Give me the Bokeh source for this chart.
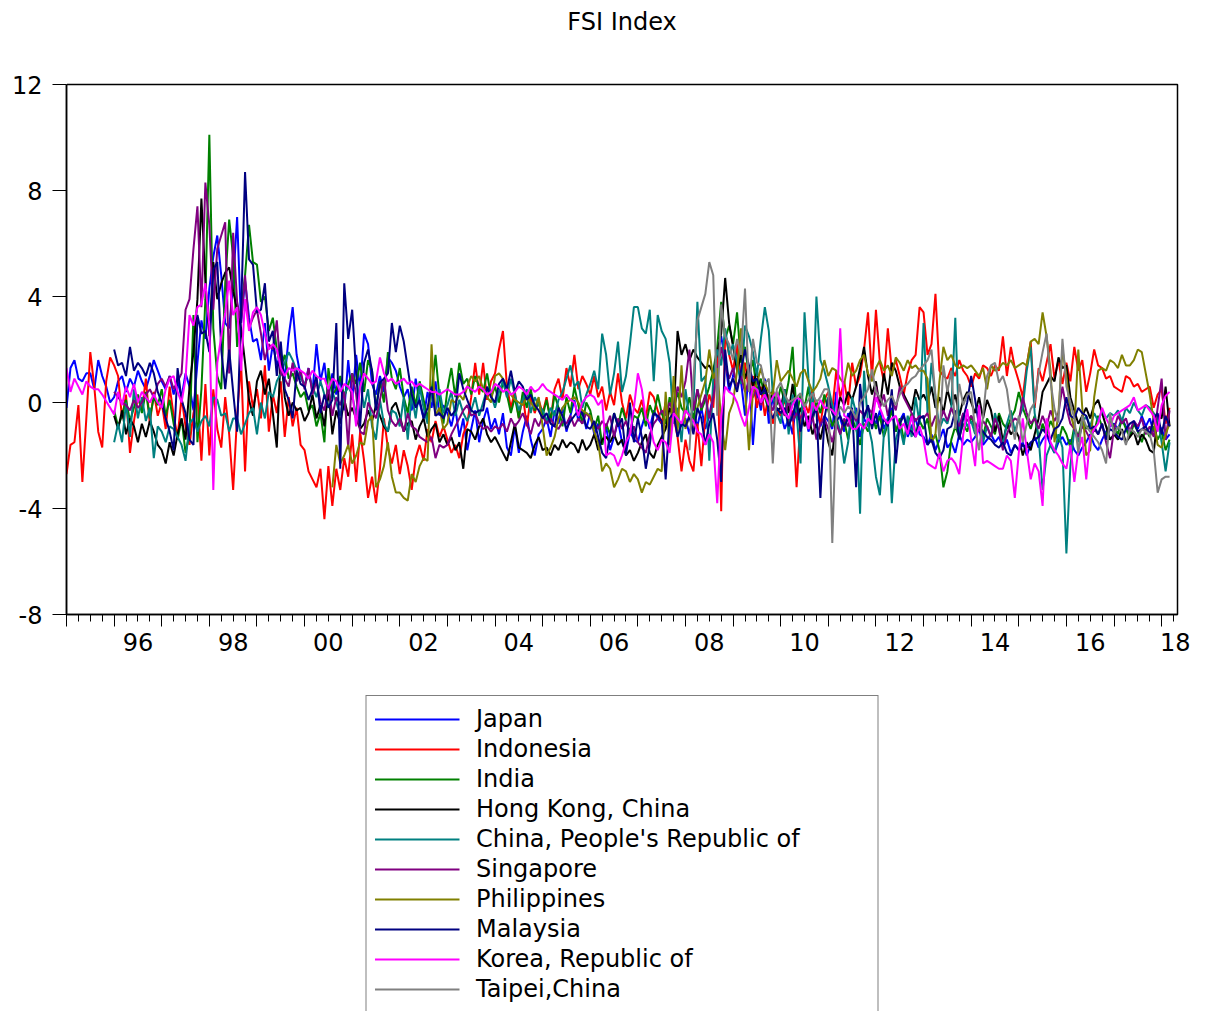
from bokeh.plotting import figure
from bokeh.layouts import column
from bokeh.models import Range1d, FixedTicker, LinearAxis, Legend, LegendItem
from bokeh.embed import file_html
from bokeh.resources import INLINE

FONT = "DejaVu Sans"
FS = "24px"

# ---- data (monthly FSI values) ----
japan_start = (1995, 1)
japan = [
    -0.2, 1.3, 1.6, 0.9, 0.8, 1.1, 1.1, 0.5, 1.6, 1.0, 0.6, 0.0,
    0.2, 0.8, 1.0, 0.4, 0.9, 0.6, 1.2, 0.8, 0.5, 1.0, 1.6, 1.2,
    0.8, 0.5, 1.0, 0.3, 0.8, 0.2, 1.1, 0.6, -0.3, 1.5, 3.1, 2.4,
    4.3, 5.5, 6.3, 4.8, 3.0, 2.8, 4.5, 7.0, 3.0, 4.6, 3.2, 2.3,
    2.4, 1.6, 3.0, 1.2, 2.2, 1.4, 1.8, 0.9, 2.5, 3.6, 1.8, 1.0,
    0.6, 1.3, 0.4, 2.2, 0.8, 1.5, 0.2, 1.1, 0.3, 0.9, -0.3, 1.6,
    0.1, 1.8, 0.5, 2.6, 2.2, 0.7, 0.3, 1.0, 0.4, 1.7, 1.5, 1.2,
    0.6, 0.2, 0.5, -0.3, 0.9, 0.0, -0.6, 0.4, -0.2, 0.8, -0.5, -0.1,
    -0.4, -0.9, -0.2, -1.3, -0.6, -1.8, -1.0, -0.3, -1.5, -0.7, -0.2, -1.0,
    -0.6, -1.2, -0.4, -1.7, -2.0, -0.9, -1.9, -1.1, -0.5, -1.4, -2.0, -1.2,
    -1.0, -0.6, -1.3, -0.3, -0.8, -0.2, -1.1, -0.5, 0.1, -0.7, -0.3, -1.0,
    -0.4, -1.2, -0.8, -1.6, -0.9, -1.8, -1.3, -0.7, -1.5, -1.9, -1.1, -1.4,
    -1.5, -0.9, -0.4, -1.0, -0.3, -0.6, -0.8, -0.2, -1.1, -0.5, -0.7, -0.9,
    -0.6, -1.2, -0.4, -0.9, -0.2, -1.0, -0.5, 0.3, 1.8, 2.5, 1.6, 0.4,
    1.0, 2.2, 0.8, -0.5, 1.2, -1.6, 0.5, -0.3, 0.9, -0.8, 0.2, -0.5,
    -0.4, -1.0, -0.6, -1.2, 0.2, -0.8, -0.3, -1.1, -0.6, -0.2, -0.9, -0.5,
    -0.7, -1.0, 0.4, -0.6, -1.1, -0.4, -0.9, -0.2, -1.3, -0.6, -0.9, -0.5,
    -0.8, -0.3, -1.0, -0.6, -0.2, -1.1, -0.7, -0.4, -1.3, -0.9, -0.6, -1.2,
    -1.3, -1.6, -1.2, -1.8, -1.4, -1.0, -1.7, -1.5, -1.9, -1.2, -1.6, -1.4,
    -1.5, -1.3, -1.0, -1.6, -1.4, -1.2, -1.5, -1.3, -1.7, -1.4, -1.9, -1.6,
    -1.8, -1.5, -2.0, -1.6, -1.3, -1.7, -1.4, -1.2, -1.6, -1.9, -1.5, -1.3,
    -1.6, -1.4, -1.8, -2.0, -1.7, -1.5, -1.2, -1.6, -1.8, -1.4, -1.1, -0.9,
    -0.8, -1.0, -0.6, -0.9, -1.2, -0.7, -1.0, -0.5, -0.9, -0.6, -1.1, -0.8,
    -1.0, -1.4, -1.2,
]

indonesia_start = (1995, 1)
indonesia = [
    -2.7, -1.6, -1.5, -0.1, -3.0, -0.6, 1.9, 0.6, -1.1, -1.7, 0.8, 1.7,
    1.4, 1.0, -0.6, 0.3, -1.9, -0.7, 0.2, -0.3, 0.9, -0.8, 0.4, -0.5,
    0.0, -1.0, 0.6, -0.5, -1.3, 0.2, -0.9, -1.6, -0.4, 0.3, -2.2, 0.7,
    -2.0, 0.5, -1.0, -1.7, 0.2, -1.2, -3.3, -0.5, 1.5, -2.6, 0.8, -0.2,
    0.5, -0.6, 1.4, -1.1, 0.3, -0.4, 0.8, -1.3, 0.2, -0.9, -0.2, -1.6,
    -1.8, -2.6, -2.9, -3.2, -2.5, -4.4, -2.4, -3.9, -2.5, -3.3, -2.1, -2.8,
    -1.2, -3.0, -1.1, -2.2, -3.6, -2.8, -3.8, -2.5, -0.6, -1.7, -2.3, -1.6,
    -2.7, -1.8, -2.4, -3.3, -2.1, -1.6, -2.2, -1.0, -1.5, -0.7, -1.3, -0.9,
    -1.4, -1.9, -1.6, -2.1, -1.2, -0.8, 0.2, 1.5, 0.3, 1.5, 0.1, 0.8,
    1.1, 2.0, 2.7, 0.6, -0.2, 0.4, -0.6, 0.3, -0.9, 0.2, -0.4, 0.1,
    -0.4, 0.2, -0.7, 0.5, 0.9, 0.1, 1.3, 0.6, 1.8, 0.5, 1.0, 0.7,
    0.3, 1.0, 0.2, 0.6, -0.3, 0.4, -0.1, 1.1, 0.0, -0.6, 0.3, -0.2,
    -0.4, 0.1, -0.6, 0.4, 0.2, -0.3, -0.8, 0.0, -1.0, -0.5, -1.3, -2.6,
    -1.4, -2.2, -2.6, -0.8, -2.4, -0.5, 0.3, -0.2, 1.9, -4.1, 2.6, 1.8,
    1.2, 2.2, 0.9, 1.5, 0.4, 1.0, -0.2, 0.6, -0.5, 0.3, -0.8, -0.3,
    -0.5, 0.2, -0.9, -0.3, -3.2, -0.6, 0.0, -0.4, 0.5, -0.2, -0.8, 0.1,
    0.4, -0.3, 1.2, 0.2, 0.8, -0.1, 1.5, 0.6, 1.0, 2.0, 3.4, 0.9,
    3.5, 1.5, 0.8, 2.8, 1.2, 1.6, 1.0, 0.3, 1.1, 1.6, 1.8, 3.6,
    3.4, 1.8, 2.2, 4.1, 1.2, 1.0, 0.9, 1.3, 1.0, 1.6, 1.2, 1.0,
    0.6, 1.1, 0.9, 1.4, 1.3, 1.0, 1.4, 1.2, 2.5, 1.0, 2.1, 1.3,
    0.8, 0.2, 1.4, 2.3, -0.2, 1.3, 0.8, 1.5, 2.2, 0.9, 1.6, 0.7,
    1.5, 0.8, 2.1, 1.2, 1.6, 0.4, 1.1, 2.0, 1.4, 1.3, 0.9, 1.0,
    0.6, 0.5, 0.4, 1.0, 0.9, 0.6, 0.7, 0.4, 0.5, 0.6, -0.2, 0.3,
    0.5, -0.8, -0.2,
]

india_start = (1996, 1)
india = [
    -0.3, -0.9, -0.5, 0.1, -0.7, -0.2, 0.3, -0.4, 0.4, -0.6, 0.2, -0.1,
    0.5, -0.5, 0.1, -0.8, -1.4, -0.6, -1.9, -1.2, 3.3, -1.5, 0.5, 3.9,
    10.1, 2.8, 1.0, 0.5, 4.5, 6.9, 5.5, 2.1, 3.5, 4.8, 6.7, 5.3,
    5.2, 3.8, 4.0, 2.7, 3.2, 2.0, 1.3, 1.8, 0.9, 1.1, 0.6, 0.2,
    0.4, -0.3, -0.1, -0.9, -0.4, -1.5, 1.3, 0.3, 0.5, 1.0, 0.2, 0.7,
    1.1, 0.7, 1.5, 0.4, 1.6, 1.2, -0.2, 0.8, 0.0, 1.9, 0.9, 0.5,
    1.3, 0.2, -0.4, 0.6, -0.1, 0.8, 0.1, -0.6, 0.4, 1.8, 0.2, -0.8,
    0.5, 1.3, 0.2, 1.5, 0.7, 0.9, 0.3, 1.0, 0.6, 0.4, 1.1, 0.2,
    0.6, 0.0, 0.8, 0.3, -0.4, 0.2, -0.6, 0.4, -0.2, 0.5, -0.3, 0.0,
    -0.5, 0.1, -0.7, 0.3, -0.2, -0.9, 0.2, -0.4, 0.6, -0.1, -0.8, 0.0,
    -0.3, -1.0, -0.5, -1.6, -0.8, -1.2, -0.4, -0.9, -0.2, -0.7, -1.1, -0.5,
    -0.6, -0.2, -0.9, -0.1, -0.5, 0.3, -0.4, -0.8, 0.2, -0.3, 0.4, -0.2,
    -0.4, 0.2, -0.7, 0.5, -0.3, 0.1, 0.6, 1.2, 2.1, 3.8, 2.4, 2.9,
    2.2, 3.4, 1.5, 2.1, 1.0, 1.6, 0.4, 0.9, 0.2, -0.3, 0.5, -0.1,
    0.6, 0.0, 0.8, 2.1, -0.5, 0.3, -0.2, 0.6, -0.7, 0.1, -0.4, 0.3,
    -0.3, -0.9, -0.5, -1.2, -0.7, -1.4, -0.6, -1.0, -1.6, -0.8, -1.1, -0.4,
    -1.0, -0.5, -1.3, -0.8, -0.3, -1.1, -0.6, -1.4, -0.9, -0.4, -1.2, -0.7,
    -1.0, -0.6, -1.5, -1.2, -1.8, -3.2, -2.6, -1.4, -0.9, -1.3, -0.8, -1.1,
    -0.5, -1.0, -0.7, -1.3, -0.6, -0.9, -1.2, -0.4, -0.8, -1.0, -0.6, -0.3,
    0.4, -0.2, -0.6, -1.0, -0.5, -1.4, -0.8, -1.2, -0.7, -1.0, -1.5, -0.9,
    -1.2, -1.7, -0.9, -1.3, -0.6, -1.0, -0.8, -1.1, -0.5, -0.9, -1.3, -0.7,
    -0.9, -1.2, -0.6, -1.0, -1.3, -0.8, -1.1, -1.5, -1.0, -1.3, -0.9, -1.4,
    -1.1, -1.8, -1.4,
]

hongkong_start = (1996, 1)
hongkong = [
    -0.5, -1.0, -0.3, -1.2, -0.6, -0.9, -1.5, -0.8, -1.3, -0.7, -1.1, -1.6,
    -1.8, -2.3, -1.5, -2.0, -1.2, -0.6, -1.4, 0.6, 1.9, 3.9, 7.7, 4.6,
    2.5, 5.3, 3.9, 4.5, 4.9, 5.1, 4.2, 3.5, 2.8, 1.5, 0.1, -0.5,
    0.8, 1.2, 0.3, 0.9, -0.4, -1.7, 1.9, 0.2, -0.5, 0.0, -0.3, -0.2,
    -0.7, -0.4, 0.3, -0.6, -0.1, -0.9, 0.5, -1.2, -0.3, -0.8, 0.1, -0.5,
    -0.2, -0.6, -1.0, -0.8, -0.3, -0.7, -0.1, -0.5, -0.9, -1.1, -0.2, 0.0,
    -0.5, -1.1, -0.8, -0.7, -1.4, -0.9, -0.6, -1.3, -1.0, -0.8, -1.5, -1.2,
    -1.6, -1.3, -1.8, -1.5, -2.5, -1.0, -1.1, -1.4, -0.9, -0.6, -1.2, -1.5,
    -1.3, -1.6, -1.9, -2.2, -1.5, -0.8, -1.7, -1.8, -1.9, -2.1, -1.6, -1.3,
    -1.8, -1.7, -2.0, -1.6, -1.8, -1.4, -1.7, -1.5, -1.6, -1.9, -1.4, -1.8,
    -1.6, -1.2, -1.8, -1.4, -1.3, -1.5, -1.2, -1.6, -1.4, -2.0, -1.8, -2.2,
    -1.9, -1.5, -1.2, -1.9, -2.1, -1.6, -1.3, -1.0, -0.2, -0.6, 2.7, 1.8,
    2.2, 1.6, 2.0, 1.7, 1.5, 1.3, 1.4, 1.1, 1.9, 2.6, 4.7, 3.0,
    2.1, 1.2, 1.8, 0.9, 1.4, 0.6, 1.2, 0.3, 0.8, -0.1, 0.4, -0.3,
    -0.2, 0.5, -0.4, 0.7, -0.6, -0.2, -0.9, -0.5, -1.2, -0.8, -1.4, -0.7,
    -1.5, -2.0, -0.5, 0.2, -0.1, 0.4, 0.1, 0.6, 1.3, 2.1, 1.0, 0.3,
    0.8, -0.2, 1.1, 0.3, 1.5, 1.2, 0.6, 0.3, 0.0, -0.3, 0.5, 0.1,
    0.3, 0.0, 0.6, -0.2, 0.2, -0.4, 0.5, -0.1, 0.3, -0.5, 0.1, 0.4,
    0.0, -0.4, 0.2, -0.6, 0.1, -0.3, -1.1, -0.5, -1.5, -0.8, -1.2, -1.0,
    -1.3, -2.0, -1.5, -1.8, -1.2, -0.6, 0.4, 0.7, 1.0, 0.8, 1.7, 1.3,
    1.4, 0.2, -0.3, -0.8, -0.5, -0.2, -0.6, -0.1, 0.1, -0.4, -0.9, -1.4,
    -1.2, -1.4, -1.0, -1.5, -1.3, -1.1, -1.6, -1.2, -1.4, -1.8, -1.9, -0.5,
    -0.6, 0.6, -0.9,
]

china_start = (1996, 1)
china = [
    -1.5, -0.8, -1.5, 0.0, -1.3, 0.5, -0.6, 0.2, -0.7, -0.2, -2.1, -0.9,
    -1.1, -1.5, -0.9, -1.0, -1.3, -1.6, -2.2, -0.8, -0.6, -1.1, -0.7, -0.5,
    -0.9, 0.2, 0.1, -0.5, -0.4, -1.1, -0.6, -0.6, -1.2, -0.8, -0.4, -0.2,
    -1.2, 0.0, -0.6, 0.4, 0.2, 0.8, 1.1, 1.5, 1.9, 1.6, 1.2, 0.9,
    0.7, 1.0, 0.6, 0.2, 0.8, 0.3, -0.2, 0.4, 0.0, -0.5, 0.3, 0.6,
    0.3, -0.5, 0.8, -0.2, 0.5, -0.9, -1.4, 0.1, -0.8, -1.1, -0.3, -0.4,
    -0.9, 0.2, -1.4, 0.3, -0.6, 0.6, -0.2, -0.8, 0.4, -0.3, 0.5, -0.4,
    -0.1, 0.4, -0.5, 0.1, -0.4, -0.7, -0.3, 0.2, -0.5, 0.0, 0.5, 0.3,
    -0.2, 0.4, 0.8, 0.2, 0.9, 0.3, -0.3, 0.1, 0.5, -0.4, 0.2, -0.1,
    -0.3, -0.7, -0.2, -0.5, 0.1, 0.4, 0.9, 1.4, 0.6, 0.8, -0.2, 0.3,
    0.7, 1.2, 0.5, 2.6, 1.8, 0.3, 1.1, 2.3, 0.4, 1.0, 2.2, 3.6,
    3.6, 2.8, 2.6, 3.5, 0.8, 3.3, 2.7, 2.4, 1.5, -0.8, -0.2, -1.5,
    0.5, -0.6, -0.2, 3.8, 0.8, 1.0, -2.2, 0.9, 2.0, 1.4, 2.8, 1.8,
    2.2, 1.5, 0.7, 2.9, 2.5, 1.9, 1.0, 2.4, 3.6, 2.7, 0.3, -0.4,
    -0.8, 0.5, -1.2, 0.3, -0.4, -2.3, 3.4, 0.9, -0.6, 4.0, 1.6, 1.2,
    0.6, -0.1, -0.6, -1.1, -2.3, -1.5, 0.2, -0.4, -4.2, 1.2, -0.8, -1.5,
    -2.8, -3.5, -1.2, -0.6, -3.8, -1.4, -0.9, -1.6, -0.5, -1.3, 0.2, -0.8,
    3.0, -0.4, 1.5, 0.2, -1.0, -0.6, -0.8, -0.2, 3.2, -1.2, -0.4, -0.9,
    -0.7, -1.2, -0.5, -1.5, -0.9, -1.3, -0.4, -1.0, -1.6, -0.8, -0.3, -1.1,
    -0.6, -0.2, 1.2, 2.1, -0.4, -1.3, -3.3, -2.0, -1.6, -1.9, -1.2, -1.7,
    -5.7, -2.4, -1.0, -1.5, -0.8, -0.5, -0.9, -0.4, -0.7, -0.3, -0.6, -0.4,
    -0.5, -0.3, -0.7, -0.2, -0.4, 0.0, -0.3, -0.5, -0.1, -0.2, -0.4, -0.6,
    -1.5, -2.6, -1.5,
]

singapore_start = (1996, 1)
singapore = [
    0.4, 0.2, 0.0, -0.1, -0.3, 0.1, -0.2, 0.0, 0.3, 0.5, 0.2, 0.7,
    0.9, 0.6, 1.0, 0.5, 0.8, 1.1, 3.5, 3.9, 5.8, 7.4, 3.6, 8.3,
    6.7, 3.5, 5.8, 6.3, 6.8, 1.1, 6.4, 3.8, 3.0, 4.8, 2.8, 3.2,
    3.5, 2.6, 1.6, 2.2, 2.0, 3.1, 1.1, 0.9, 0.6, 1.5, 0.8, 1.2,
    0.5, 1.3, 0.3, 0.8, 0.0, -0.3, 0.6, -0.5, 0.2, -0.1, 0.4, -1.7,
    1.1, 0.3, -1.1, -1.2, 0.0, -0.3, -0.6, 0.1, 0.9, -0.3, -0.7, -0.9,
    -0.6, -1.1, -0.4, -0.9, -1.0, -1.3, -1.4, -1.5, -1.3, -2.1, -1.6, -1.7,
    -1.6, -1.2, -0.9, -0.6, -0.3, -0.1, -0.5, -0.4, -0.8, -1.0, -0.9, -1.1,
    -0.9, -1.0, -0.8, -1.1, -0.6, -0.9, -0.7, -0.4, -0.8, -1.2, -0.6, -0.9,
    -0.5, -0.8, -0.6, -0.9, -1.0, -0.7, -0.8, -0.5, -0.9, -0.6, -0.8, -0.4,
    -0.6, -0.8, -1.0, -0.7, -0.9, -0.5, -1.3, -0.6, -1.0, -0.7, -1.2, -0.9,
    -1.5, -1.7, -1.9, -1.2, -0.8, -0.6, -0.3, -0.5, 0.0, -0.4, 0.6, 0.2,
    0.8, 2.0, -0.3, 0.5, -0.2, 0.3, -0.6, 0.2, 1.1, 2.1, 1.4, 0.9,
    1.3, 0.6, 1.0, 0.4, 0.8, 0.2, 0.5, -0.1, 0.3, 0.0, -0.3, 0.2,
    -0.2, -0.5, 0.1, -0.7, -0.4, -0.6, -0.3, -1.0, -0.5, -1.4, -0.8, -0.6,
    -1.0, -1.5, -0.8, -1.2, -0.6, -0.9, -0.4, -0.7, -0.3, -0.5, -0.2, -0.4,
    0.6, -0.2, 0.3, -0.5, 0.1, -0.3, 0.6, 0.2, -0.1, -0.4, -0.7, -0.5,
    -0.6, -0.4, -0.9, -0.5, -0.8, -0.3, -0.7, -0.2, -0.6, -0.9, -0.4, -0.7,
    -0.5, -0.8, -1.1, -0.7, -0.9, -1.3, -0.6, -1.0, -1.8, -1.2, -0.8, -0.6,
    -0.7, 0.2, -0.4, -0.8, -0.6, -1.0, -0.5, -0.9, -0.3, -0.7, -0.4, 0.6,
    -0.2, -0.8, -1.0, -1.3, -0.9, -1.1, -1.4, -1.0, -1.2, -0.8, -1.5, -2.1,
    -1.0, -0.5, -0.8, -0.6, -1.1, -0.7, -0.9, -0.6, -1.2, -0.9, -1.3, -0.2,
    0.9, -1.4, -0.3,
]

philippines_start = (2000, 8)
philippines = [
    -3.2, -1.6, -2.3, -2.0, -1.6,
    -2.3, -2.0, -1.5, -1.6, -0.7, -0.5, -3.2, -2.9, -2.4, -1.5, -2.8, -3.4,
    -3.4, -3.6, -3.7, -2.7, -3.0, -2.4, -2.1, -2.2, 2.2, -0.5, -0.2, -1.0,
    -0.8, 0.1, 0.0, 0.3, 0.1, 0.6, 1.0, 0.8, 1.0, 0.5, 0.2, 0.0,
    1.0, 1.1, 0.9, 0.6, 0.3, 0.1, 0.0, -0.1, 0.2, 0.0, -0.2, 0.2,
    -0.9, -2.0, -1.7, -1.3, -0.6, -0.2, 0.0, 0.1, 0.2, 0.0, -0.3, -0.4,
    -0.5, -1.1, -1.5, -2.6, -2.3, -2.5, -3.2, -2.9, -2.5, -2.6, -3.0, -2.7,
    -2.9, -3.4, -3.0, -3.1, -2.8, -2.5, -2.6, 0.4, -1.6, 1.0, -1.1, 1.4,
    -1.0, -0.5, -1.1, -0.2, 0.3, 0.8, 2.0, 0.9, 1.3, -0.7, -1.8, -0.4,
    0.0, 1.2, 2.8, 0.5, -1.8, 0.4, 0.7, 1.3, 0.7, 0.4, 0.3, 1.6,
    0.8, 1.0, 1.2, 0.9, 0.6, 1.1, 1.25, 0.8, 0.4, 0.6, 0.9, 1.6,
    1.0, 1.3, 1.2, 0.9, 0.7, 1.5, 1.0, 1.2, 1.6, 1.8, 1.1, 0.8,
    1.3, 1.6, 1.2, 1.4, 1.0, 1.7, 1.5, 1.2, 1.6, 1.3, 1.4, 1.2,
    1.2, 0.9, -1.5, -1.2, 0.8, 2.1, 1.6, 1.8, 1.4, 1.3, 1.4, 1.3,
    1.4, 1.2, 1.0, 1.3, 0.5, 1.4, 1.2, 1.3, 1.5, 1.4, 1.6, 1.3,
    1.4, 1.5, 1.4, 2.3, 2.4, 2.2, 3.4, 2.5, 1.2, -1.5, -0.4, 2.0,
    1.0, -0.4, -1.0, 2.0, -0.2, -2.0, -1.8, 0.2, 1.2, 1.3, 1.2, 1.6,
    1.5, 1.3, 1.8, 1.4, 1.4, 1.6, 2.0, 1.9, 1.1, 0.3, -0.7, -1.6,
    -1.7, -1.2, -0.8,
]

malaysia_start = (1996, 1)
malaysia = [
    2.0, 1.4, 1.5, 1.0, 2.1, 1.2, 1.5, 1.3, 1.0, 1.5, 1.1, 0.4,
    0.0, -0.6, -1.1, -1.8, 1.3, 0.1, -0.4, -1.4, -1.6, 3.3, 2.6, 2.7,
    1.9, 5.0, 5.3, 2.0, 0.5, 2.0, 0.4, -1.1, 3.4, 8.7, 5.4, 5.2,
    3.4, 3.5, 4.5, 2.3, 2.7, 1.0, 2.3, 0.5, 0.1, -0.6, 1.2, 0.7,
    0.6, 0.1, 0.5, 1.0, -0.4, 0.3, -0.2, 0.1, 3.0, -2.5, 4.5, 2.4,
    3.5, 1.1, -0.9, 1.5, 2.0, 1.2, -0.3, 0.75, 0.9, 1.1, 3.0, 1.9,
    2.9, 2.3, 1.3, 0.3, -0.2, 0.1, -0.6, -0.2, 0.6, -0.5, -0.4, -0.6,
    -0.2, -0.5, -0.3, 1.1, 0.5, 0.1, -0.3, -0.4, -0.3, -0.3, 0.6, 0.2,
    0.0, 0.7, 0.9, 0.5, 1.2, 0.4, 0.8, 0.6, 0.1, 0.3, -0.1, -0.3,
    -0.6, -0.4, -0.8, -0.9, -0.2, -0.5, -1.0, -0.7, -0.5, -0.3, -0.4, -0.9,
    -1.0, -0.7, -1.3, -1.9, -2.1, -1.2, -0.4, -0.9, -0.6, -2.0, 0.0, -1.5,
    -0.6, -1.3, -2.5, -1.6, -0.4, -0.5, -0.7, -2.9, -0.6, -0.4, -1.3, -0.8,
    -0.9, -0.5, -1.2, -0.2, -0.6, -1.6, -0.8, -0.4, -1.4, -3.0, 2.0, 0.6,
    0.9, 0.4, 1.2, 2.0, 1.4, 0.8, 0.9, 0.3, 0.5, -0.3, -0.6, -0.2,
    -0.4, -0.2, -0.9, -0.5, 0.1, -1.1, -0.3, -0.8, -0.5, -0.2, -3.6, -0.6,
    0.2, -0.4, -0.7, -0.5, -0.9, -0.6, -0.2, -3.2, 0.7, -0.6, -0.1, -1.0,
    -0.4, -1.2, -0.6, -0.9, 0.5, -2.3, -0.8, -0.5, -1.0, -1.1, -1.3, -0.6,
    -0.5, -1.6, -1.4, -1.9, -2.1, -1.8, -1.0, -0.9, -0.3, -1.4, -0.6, 0.0,
    1.0, 0.1, -0.9, -1.1, -1.3, -1.4, -1.6, -1.7, -1.5, -1.9, -2.0, -1.6,
    -1.8, -1.6, -1.7, -1.5, -1.4, -1.3, -1.0, -1.2, -1.4, -1.0, -0.9, -0.6,
    0.2, -0.5, -0.6, -0.2, -0.4, -0.5, -1.0, -0.9, -1.2, -0.8, -1.4, -1.0,
    -1.1, -1.3, -1.4, -1.0, -0.8, -0.7, -1.1, -1.0, -0.9, -1.2, -0.6, -0.4,
    -1.2, -0.5, -0.9,
]

korea_start = (1995, 1)
korea = [
    1.3, 0.4, 0.9, 0.6, 0.3, 0.8, 0.6, 0.5, 0.5, 0.3, 0.05, -0.2,
    -0.45, 0.4, -0.1, 0.6, 0.2, 0.7, 0.0, 0.4, 0.2, 0.0, 0.3, 0.0,
    -0.2, 0.5, 0.9, 1.0, 0.4, 0.0, 0.9, 3.3, 2.9, 3.6, 3.7, 4.5,
    2.9, -3.3, 1.5, 2.5, 3.4, 4.6, 3.3, 3.6, 1.2, 3.9, 2.7, 3.4,
    3.6, 3.3, 2.6, 2.0, 2.2, 2.0, 1.3, 1.0, 1.3, 1.2, 1.3, 1.2,
    1.1, 0.9, 1.2, 1.0, 0.9, 0.9, 0.5, 0.9, 0.8, 0.4, 0.7, 0.6,
    0.4, -0.9, 0.6, 1.1, 0.9, 0.7, 0.8, 1.7, 1.1, 0.8, 0.9, 0.7,
    0.8, 0.9, 0.7, 0.8, 0.6, 0.7, 0.6, 0.5, 0.4, 0.4, 0.3, 0.4,
    0.5, 0.4, 0.3, 0.3, 0.4, 0.6, 0.5, 0.4, 0.6, 0.5, 0.3, 0.4,
    0.7, 0.6, 0.4, 0.5, 0.3, 0.4, 0.6, 0.5, 0.3, 0.6, 0.4, 0.5,
    0.7, 0.5, 0.4, 0.3, 0.2, 0.1, 0.3, 0.1, 0.0, -0.5, 0.0, 0.2,
    0.3, 0.2, -0.1, 0.1, -2.0, -1.9, -2.0, -2.4, -2.0, -1.5, -1.2, -0.2,
    1.1, 0.5, -0.6, -0.8, -1.5, -1.8, -1.4, -1.5, -1.9, -0.4, -0.6, -0.8,
    -0.3, -0.5, -0.7, -1.1, -1.2, -1.6, -1.2, -1.5, -3.8, -0.5, 0.6, 0.4,
    0.3, 0.0, -0.5, -0.9, -0.2, 0.6, 0.5, 0.0, 0.3, -0.1, 0.2, 0.4,
    0.0, -0.4, -0.6, -0.1, 0.2, 0.1, -0.2, -1.0, 0.0, -0.3, 0.1, -0.2,
    -0.2, -0.3, -0.5, 2.8, -0.5, -0.6, -1.0, -1.0, -0.8, -1.0, -0.6, -0.8,
    0.2, -0.2, -0.6, -0.8, -0.6, -0.5, -1.0, -0.8, -1.2, -0.5, -1.3, -0.9,
    -1.4, -2.3, -2.4, -2.5, -1.9, -2.6, -2.2, -2.1, -2.3, -2.7, -1.2, -0.25,
    -1.4, -2.4, -0.1, -2.3, -2.2, -2.3, -2.4, -2.5, -2.5, -2.0, -2.2, -3.6,
    -1.9, -0.6, -1.8, -2.9, -2.3, -2.6, -3.9, -0.6, -1.5, -1.8, -2.0, -2.3,
    -2.5, -1.6, -3.0, -1.8, -1.3, -2.9, -1.3, -1.0, -0.8, -0.2, -0.6, -0.9,
    -0.5, -0.4, -0.3, -0.2, -0.1, 0.2, -0.3, -0.2, -0.1, -0.3, -0.5, -1.1,
    -0.1, 0.25, 0.4,
]

taipei_start = (2008, 2)
taipei = [
    -1.8, 0.9, 3.1, 3.6, 4.1, 5.3, 4.8, -0.5, 3.7, 2.5, 2.2,
    1.6, 2.4, 1.8, 4.3, 0.4, 2.4, 1.5, 1.4, 0.7, 0.9, -2.3, 0.5,
    0.75, 0.3, 0.0, 0.1, 0.2, 0.35, -0.15, 0.1, 0.35, 0.0, 0.2, 0.5,
    0.5, -5.3, -0.6, -0.15, -0.4, -0.15, -0.3, -0.6, 0.0, 0.2, 0.5, 1.25,
    0.4, 0.2, -0.15, 0.1, 0.25, -0.1, 0.3, 0.6, 0.7, 0.9, 1.0, 1.25,
    1.4, 1.6, 2.0, 0.25, -1.4, 1.4, 0.4, 1.2, -1.0, 0.7, -0.1, 0.3,
    0.4, -1.0, -1.8, -0.5, 1.0, 1.4, 1.5, 0.75, 1.0, 0.5, -0.6, -1.4,
    -0.5, -1.5, -0.8, -0.25, 0.0, 1.1, 1.9, 2.6, 0.8, -0.25, -0.75, 2.4,
    0.6, 0.0, -0.6, -1.9, -0.5, -0.9, -1.1, -1.3, -1.5, -1.8, -2.3, -0.4,
    -1.2, -0.9, -1.1, -1.6, -1.0, -1.1, -1.3, -1.0, -1.1, -1.2, -1.8, -3.4,
    -2.9, -2.8, -2.8,
]

series_names = ["Japan", "Indonesia", "India", "Hong Kong, China",
                "China, People's Republic of", "Singapore", "Philippines",
                "Malaysia", "Korea, Republic of", "Taipei,China"]
series_values = [japan, indonesia, india, hongkong, china, singapore,
                 philippines, malaysia, korea, taipei]
series_starts = [japan_start, indonesia_start, india_start, hongkong_start,
                 china_start, singapore_start, philippines_start,
                 malaysia_start, korea_start, taipei_start]
series_colors = ["#0000ff", "#ff0000", "#008000", "#000000", "#008080",
                 "#800080", "#808000", "#000080", "#ff00ff", "#808080"]

y_ticks = [-8, -4, 0, 4, 8, 12]
y_tick_labels = ["-8", "-4", "0", "4", "8", "12"]
year_first, year_last = 1995, 2018
x_end = 2018 + 4 / 12
label_years = [1996, 1998, 2000, 2002, 2004, 2006, 2008, 2010, 2012, 2014, 2016, 2018]


def month_axis(start, n):
    y, m = start
    return [y + (m - 1 + i) / 12 for i in range(n)]


# ---------------- main chart ----------------
p = figure(frame_width=1111, frame_height=530,
           x_range=Range1d(year_first, x_end), y_range=Range1d(-8, 12),
           output_backend="svg", toolbar_location=None,
           x_axis_location=None, y_axis_location=None,
           min_border_left=66, min_border_right=13,
           min_border_top=0, min_border_bottom=60)
p.xgrid.visible = False
p.ygrid.visible = False
p.outline_line_color = "black"
p.outline_line_width = 1.5
p.background_fill_color = "white"
p.border_fill_color = "white"

# invisible axis above the frame: reserves the gap between title and frame
gap = LinearAxis(ticker=FixedTicker(ticks=[year_first], minor_ticks=[]))
gap.major_tick_out = 44
gap.major_tick_in = 0
gap.minor_tick_out = 0
gap.axis_line_color = None
gap.major_tick_line_color = "white"
gap.minor_tick_line_color = None
gap.major_label_text_font_size = "1px"
gap.major_label_text_color = None
gap.major_label_standoff = 0
p.add_layout(gap, "above")

p.title.text = "FSI Index"
p.title.align = "center"
p.title.text_font = FONT
p.title.text_font_size = FS
p.title.text_font_style = "normal"
p.title.text_color = "black"
p.title.standoff = 10

# y axis
yax = LinearAxis(ticker=FixedTicker(ticks=y_ticks, minor_ticks=[]))
yax.major_label_overrides = {t: s for t, s in zip(y_ticks, y_tick_labels)}
yax.major_tick_out = 14
yax.major_tick_in = 0
yax.minor_tick_out = 0
yax.major_tick_line_color = "black"
yax.axis_line_color = "black"
yax.axis_line_width = 1.5
yax.major_label_standoff = 10
yax.major_label_text_font = FONT
yax.major_label_text_font_size = FS
yax.major_label_text_color = "black"
p.add_layout(yax, "left")

# x axis: tick marks only (years long, quarters short)
year_ticks = list(range(year_first, year_last + 1))
quarter_ticks = [y + q / 4 for y in year_ticks for q in (1, 2, 3) if y + q / 4 < x_end]
xax = LinearAxis(ticker=FixedTicker(ticks=year_ticks, minor_ticks=quarter_ticks))
xax.major_tick_out = 12
xax.major_tick_in = 0
xax.minor_tick_out = 7
xax.minor_tick_in = 0
xax.major_tick_line_color = "black"
xax.minor_tick_line_color = "black"
xax.axis_line_color = "black"
xax.axis_line_width = 1.5
xax.major_label_text_font_size = "1px"
xax.major_label_text_color = None
xax.major_label_standoff = 0
p.add_layout(xax, "below")

# x axis: year labels centred in the year interval
label_pos = [y + 0.5 if y + 0.5 < x_end else x_end - 0.005 for y in label_years]
xlab = LinearAxis(ticker=FixedTicker(ticks=label_pos, minor_ticks=[]))
xlab.major_label_overrides = {pos: "%02d" % (y % 100) for pos, y in zip(label_pos, label_years)}
xlab.axis_line_color = None
xlab.major_tick_line_color = None
xlab.minor_tick_line_color = None
xlab.major_tick_out = 0
xlab.major_tick_in = 0
xlab.major_label_standoff = 6
xlab.major_label_text_font = FONT
xlab.major_label_text_font_size = FS
xlab.major_label_text_color = "black"
p.add_layout(xlab, "below")

for vals, start, col in zip(series_values, series_starts, series_colors):
    p.line(month_axis(start, len(vals)), vals, line_color=col, line_width=2)

# ---------------- legend panel (own canvas, below the chart) ----------------
lf = figure(frame_width=1111, frame_height=337,
            x_range=Range1d(0, 1), y_range=Range1d(0, 1),
            output_backend="svg", toolbar_location=None,
            x_axis_location=None, y_axis_location=None,
            min_border_left=66, min_border_right=13,
            min_border_top=0, min_border_bottom=0)
lf.xgrid.visible = False
lf.ygrid.visible = False
lf.outline_line_color = None
lf.border_fill_color = "white"
lf.background_fill_color = "white"

items = []
for name, vals, start, col in zip(series_names, series_values, series_starts, series_colors):
    r = lf.line(month_axis(start, len(vals)), vals, line_color=col, line_width=2)
    items.append(LegendItem(label=name, renderers=[r]))

legend = Legend(items=items, location="top_center")
legend.orientation = "vertical"
legend.label_text_font = FONT
legend.label_text_font_size = FS
legend.label_text_color = "black"
legend.glyph_width = 85
legend.glyph_height = 30
legend.label_height = 30
legend.label_width = 393
legend.label_standoff = 17
legend.spacing = 0
legend.padding = 8
legend.margin = 21
legend.border_line_color = "black"
legend.border_line_width = 1.5
legend.background_fill_color = "white"
legend.background_fill_alpha = 1.0
lf.add_layout(legend, "center")

layout = column(p, lf, spacing=0)
open("out.html", "w").write(file_html(layout, INLINE))
